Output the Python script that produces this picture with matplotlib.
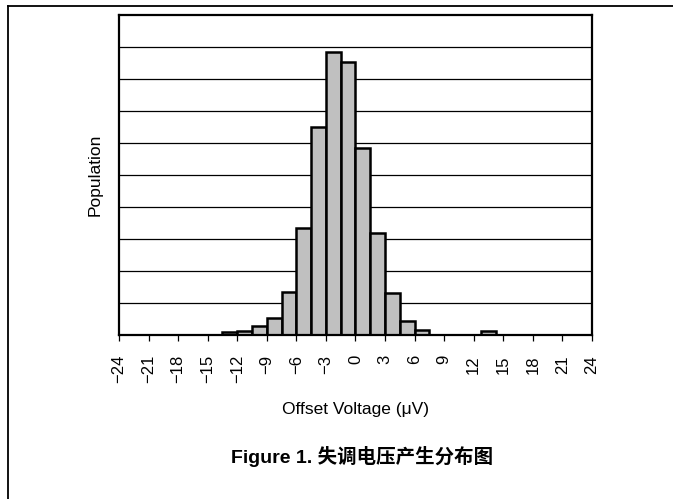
import numpy as np
import matplotlib
matplotlib.use("Agg")
import matplotlib.pyplot as plt
from matplotlib.lines import Line2D

plt.rcParams['font.family'] = ['Liberation Sans', 'Noto Sans CJK SC', 'DejaVu Sans']

# histogram bins (left edge, uV) and population heights (arbitrary units)
bin_left = [-13.5, -12.0, -10.5, -9.0, -7.5, -6.0, -4.5, -3.0, -1.5, 0.0, 1.5, 3.0, 4.5, 6.0, 12.75]
heights = [0.10, 0.13, 0.29, 0.52, 1.35, 3.35, 6.51, 8.83, 8.52, 5.83, 3.20, 1.30, 0.44, 0.14, 0.13]
bin_width = 1.5
xticks = list(range(-24, 25, 3))
xtick_labels = [str(t).replace('-', '\u2212') for t in xticks]
grid_levels = list(range(1, 10))

fig = plt.figure(figsize=(6.73, 4.99), dpi=100)
ax = fig.add_axes([0.1768, 0.3287, 0.7028, 0.6413])

for y in grid_levels:
    ax.axhline(y, color='black', linewidth=0.9, zorder=1)

ax.bar(bin_left, heights, width=bin_width, align='edge', color='#c0c0c0',
       edgecolor='black', linewidth=1.8, zorder=2)

ax.set_xlim(-24, 24)
ax.set_ylim(0, 10)
ax.set_xticks(xticks)
ax.set_xticklabels(xtick_labels, rotation=90, fontsize=12, va='top')
ax.set_yticks([])
ax.tick_params(axis='x', direction='out', length=4.5, width=0.9, pad=10)
for s in ax.spines.values():
    s.set_linewidth(1.6)

ax.set_xlabel('Offset Voltage (\u03bcV)', fontsize=12.5, labelpad=13)
ax.set_ylabel('Population', fontsize=12.5, labelpad=12)

fig.text(0.538, 0.086, 'Figure 1. 失调电压产生分布图', ha='center', va='center',
         fontsize=14, fontweight='bold')

# page frame (top and left rules)
fig.add_artist(Line2D([8 / 673, 1.0], [1 - 6 / 499, 1 - 6 / 499], color='black',
                      linewidth=1.3, transform=fig.transFigure))
fig.add_artist(Line2D([8 / 673, 8 / 673], [0.0, 1 - 6 / 499], color='black',
                      linewidth=1.3, transform=fig.transFigure))

fig.savefig('out.png', dpi=100)
